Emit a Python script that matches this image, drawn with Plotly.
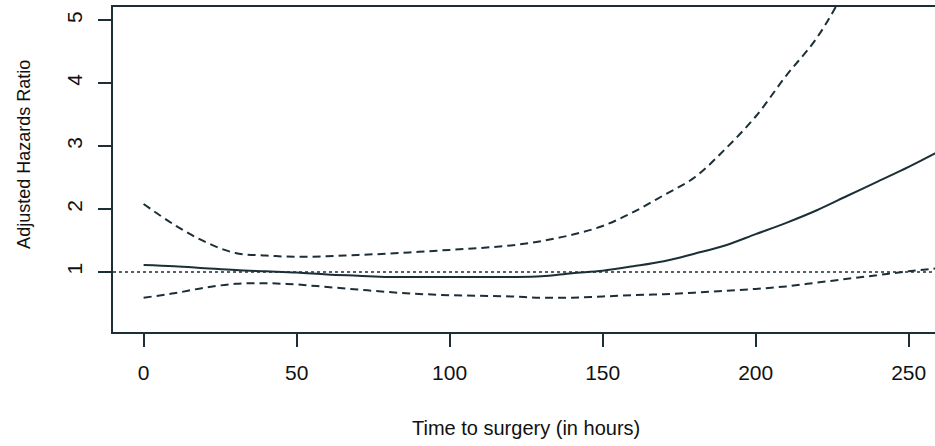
import plotly.graph_objects as go

hours = [0, 10, 20, 30, 40, 50, 60, 70, 80, 90, 100, 110, 120, 130, 140, 150,
         160, 170, 180, 190, 200, 210, 220, 230, 240, 250, 260]
hr = [1.11, 1.09, 1.06, 1.03, 1.01, 0.99, 0.96, 0.94, 0.92, 0.92, 0.92, 0.92, 0.92,
      0.93, 0.98, 1.02, 1.09, 1.17, 1.29, 1.42, 1.60, 1.78, 1.98, 2.21, 2.44, 2.67, 2.92]
upper = [2.08, 1.75, 1.48, 1.30, 1.26, 1.24, 1.25, 1.27, 1.29, 1.32, 1.35, 1.38, 1.42,
         1.49, 1.59, 1.73, 1.95, 2.22, 2.50, 2.95, 3.47, 4.12, 4.72, 5.55, 6.5, 7.6, 8.8]
lower = [0.59, 0.66, 0.75, 0.81, 0.82, 0.80, 0.76, 0.72, 0.68, 0.65, 0.63, 0.62, 0.61,
         0.59, 0.59, 0.61, 0.63, 0.645, 0.67, 0.70, 0.73, 0.77, 0.83, 0.89, 0.95, 1.01, 1.06]

x_ticks = [0, 50, 100, 150, 200, 250]
y_ticks = [1, 2, 3, 4, 5]

ink = "#1c2f36"
font = "Liberation Sans, Arial, sans-serif"

fig = go.Figure()
fig.add_trace(go.Scatter(x=hours, y=upper, mode="lines",
                         line=dict(color=ink, width=2, dash="8px,5px", shape="spline")))
fig.add_trace(go.Scatter(x=hours, y=lower, mode="lines",
                         line=dict(color=ink, width=2, dash="8px,5px", shape="spline")))
fig.add_trace(go.Scatter(x=hours, y=hr, mode="lines",
                         line=dict(color=ink, width=2, shape="spline")))
fig.add_hline(y=1, line=dict(color=ink, width=1.5, dash="dot"))

fig.update_layout(
    width=935, height=446,
    margin=dict(l=113, r=0, t=7, b=114, autoexpand=False),
    paper_bgcolor="white", plot_bgcolor="white",
    showlegend=False,
    font=dict(family=font, size=21, color="#111"),
    xaxis=dict(range=[-10, 258.6], tickvals=x_ticks, ticks="outside", ticklen=13,
               tickwidth=2, tickcolor=ink, showline=True, linecolor=ink, linewidth=2,
               mirror=True, showgrid=False, zeroline=False, automargin=False,
               ticklabelstandoff=8,
               tickfont=dict(family=font, size=21, color="#111")),
    yaxis=dict(range=[0.045, 5.21], tickvals=y_ticks, ticks="outside", ticklen=13,
               tickwidth=2, tickcolor=ink, showline=True, linecolor=ink, linewidth=2,
               showgrid=False, zeroline=False, tickangle=-90, automargin=False,
               ticklabelstandoff=8,
               tickfont=dict(family=font, size=21, color="#111")),
)

fig.add_annotation(text="Time to surgery (in hours)", xref="x", yref="paper",
                   x=125, y=0, yshift=-96, showarrow=False, yanchor="middle",
                   font=dict(family=font, size=20, color="#111"))
fig.add_annotation(text="Adjusted Hazards Ratio", xref="paper", yref="paper",
                   x=0, y=0.545, xshift=-89, showarrow=False, textangle=-90,
                   xanchor="center", yanchor="middle",
                   font=dict(family=font, size=18, color="#111"))

fig.write_html("out.html", config={"displayModeBar": False},
               post_script="document.body.style.margin='0';document.body.style.padding='0';")
